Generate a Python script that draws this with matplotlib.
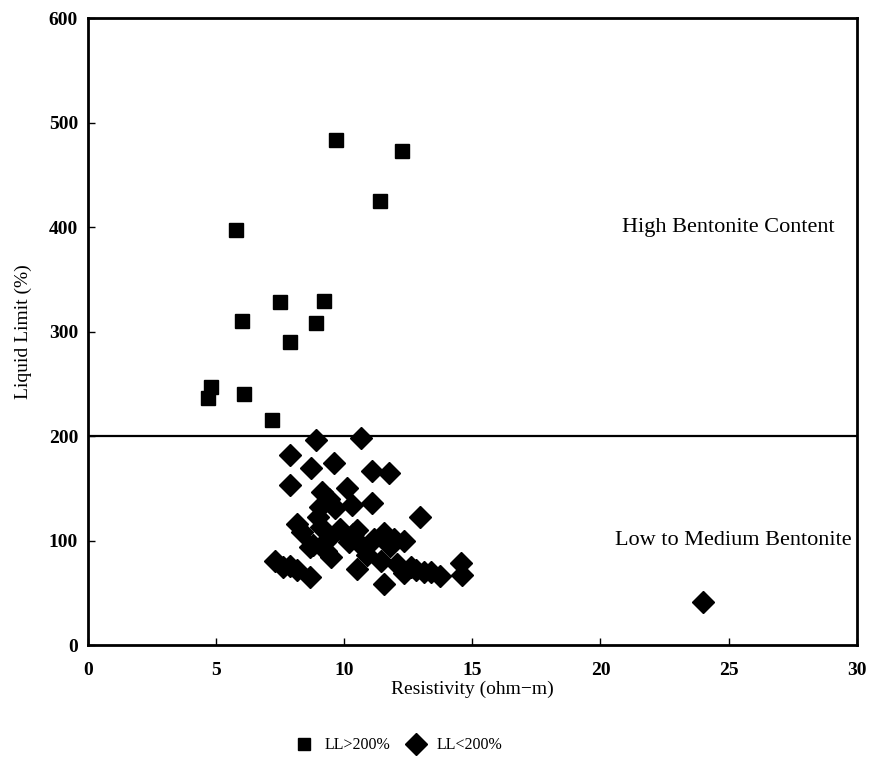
import matplotlib
matplotlib.use("Agg")
import matplotlib.pyplot as plt
from matplotlib.lines import Line2D

plt.rcParams['font.family'] = ['Liberation Serif', 'DejaVu Serif']

# LL > 200% (squares)
high_x = [4.7, 4.8, 6.1, 6.0, 5.8, 7.5, 9.2, 8.9, 7.9, 7.2, 9.7, 12.25, 11.4]
high_ll = [237, 247, 240, 310, 397, 328, 329, 308, 290, 215, 483, 473, 425]

# LL < 200% (diamonds)
low_x = [8.9, 10.65, 7.9, 8.7, 9.6, 11.1, 11.75, 7.9, 9.15, 10.1, 11.1, 9.4,
         10.3, 9.65, 9.05, 12.95, 8.15, 9.0, 9.1, 8.35, 9.85, 10.5, 11.55,
         11.95, 12.35, 10.2, 10.75, 8.65, 11.15, 9.5, 10.5, 7.3, 7.9, 8.15,
         8.65, 11.55, 11.45, 12.05, 12.6, 13.1, 13.75, 14.55, 14.6, 12.35,
         7.6, 9.3, 10.9, 11.8, 24.0, 9.4, 8.8, 12.8, 10.35, 13.4]
low_ll = [196, 198, 182, 170, 174, 167, 165, 153, 147, 150, 136, 140,
          134, 131, 132, 123, 116, 123, 113, 108, 111, 110, 107,
          102, 100, 99, 94, 94, 102, 84, 73, 81, 76, 72,
          65, 59, 81, 78, 75, 70, 66, 79, 67, 69,
          75, 90, 86, 95, 41, 103, 96, 72, 106, 70]

x_ticks = [0, 5, 10, 15, 20, 25, 30]
y_ticks = [0, 100, 200, 300, 400, 500, 600]

fig = plt.figure(figsize=(8.69, 7.59), dpi=100)
ax = fig.add_axes([0.101, 0.150, 0.885, 0.826])

ax.plot(high_x, high_ll, linestyle='none', marker='s', markersize=10.5,
        color='black', label='LL>200%')
ax.plot(low_x, low_ll, linestyle='none', marker='D', markersize=11,
        color='black', label='LL<200%')

ax.axhline(200, color='black', linewidth=1.6)

ax.set_xlim(0, 30)
ax.set_ylim(0, 600)
ax.set_xticks(x_ticks)
ax.set_yticks(y_ticks)
ax.tick_params(axis='both', direction='in', length=5, width=1, labelsize=14)
ax.tick_params(axis='x', pad=12)
ax.tick_params(axis='y', pad=7)
for lab in ax.get_yticklabels():
    lab.set_fontweight('bold')
for lab in ax.get_xticklabels():
    lab.set_fontweight('bold')
for s in ax.spines.values():
    s.set_linewidth(2)

ax.set_xlabel('Resistivity (ohm\u2212m)', fontsize=14, labelpad=1)
ax.set_ylabel('Liquid Limit (%)', fontsize=14, labelpad=12)

ax.text(25.0, 400, 'High Bentonite Content', fontsize=16, ha='center', va='center')
ax.text(25.2, 100, 'Low to Medium Bentonite', fontsize=16, ha='center', va='center')

handles = [Line2D([], [], linestyle='none', marker='s', markersize=9, color='black'),
           Line2D([], [], linestyle='none', marker='D', markersize=11, color='black')]
fig.legend(handles, ['LL>200%', 'LL<200%'], loc='center', bbox_to_anchor=(0.455, 0.018),
           ncol=2, frameon=False, fontsize=11.5, handletextpad=0.3, columnspacing=0.6)

fig.savefig('out.png', dpi=100)
